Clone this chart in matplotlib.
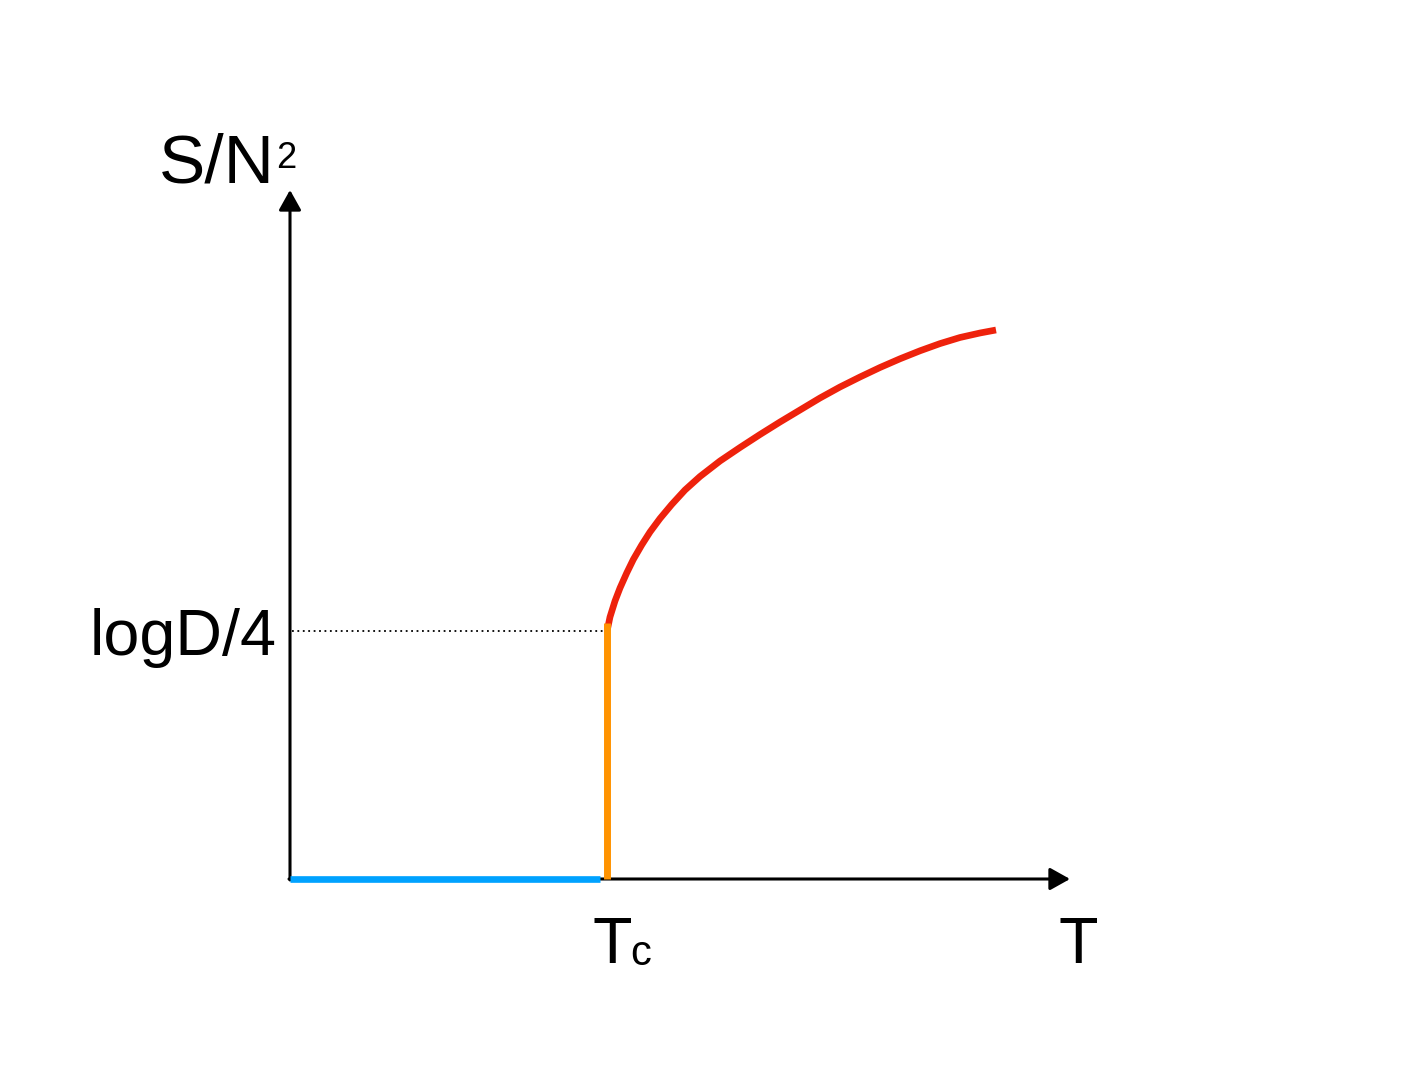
import numpy as np
import matplotlib.pyplot as plt

plt.rcParams['font.family'] = ['Liberation Sans', 'DejaVu Sans']

# ---- data (T along x, S/N^2 along y) ----
T_c = 3.17
S_c = 2.49          # logD/4

# blue: low-T phase, S = 0
T_low = [0.0, 3.10]
S_low = [0.0, 0.0]

# orange: jump at Tc
T_jump = [T_c, T_c]
S_jump = [0.0, 2.56]

# red: high-T phase
T_high = [3.173, 3.20, 3.25, 3.30, 3.367, 3.433, 3.517, 3.60, 3.70, 3.817, 3.95,
          4.10, 4.30, 4.50, 4.70, 4.90, 5.10, 5.30, 5.50, 5.70, 5.90, 6.10,
          6.30, 6.50, 6.70, 6.90, 7.06]
S_high = [2.49, 2.62, 2.78, 2.91, 3.06, 3.195, 3.34, 3.47, 3.605, 3.745, 3.89,
          4.025, 4.18, 4.315, 4.445, 4.57, 4.69, 4.81, 4.92, 5.02, 5.115, 5.202,
          5.282, 5.354, 5.415, 5.46, 5.49]

T_axis_end = 7.80
S_axis_end = 6.89

fig = plt.figure(figsize=(14.22, 10.67), dpi=100)
ax = fig.add_axes([0, 0, 1, 1])
ax.set_xlim(-2.90, 11.32)
ax.set_ylim(-1.88, 8.79)
ax.axis('off')

# axes with arrows
arrow = dict(arrowstyle='-|>,head_length=0.34,head_width=0.19', lw=2.2,
             color='black', mutation_scale=36, shrinkA=0, shrinkB=0)
ax.annotate('', xy=(T_axis_end, 0), xytext=(-0.01, 0), arrowprops=arrow, zorder=2)
ax.annotate('', xy=(0, S_axis_end), xytext=(0, -0.01), arrowprops=arrow, zorder=2)

# dotted guide at logD/4
ax.plot([0.02, T_c], [S_c - 0.01, S_c - 0.01], color='black', lw=1.3,
        linestyle=(0, (1, 2)), zorder=1)

ax.plot(T_low, S_low, color='#00A2FF', lw=4.8, solid_capstyle='butt', zorder=3)
ax.plot(T_jump, S_jump, color='#FF9300', lw=5.0, solid_capstyle='butt', zorder=4)
ax.plot(T_high, S_high, color='#EE220C', lw=4.8, solid_capstyle='butt',
        solid_joinstyle='round', zorder=3)

# labels
fs = 46.5
ax.text(-0.15, 6.96, 'S/N', fontsize=50, ha='right', va='baseline')
ax.text(-0.14, 7.11, '2', fontsize=26, ha='left', va='baseline')
ax.text(-0.13, 2.24, 'logD/4', fontsize=fs, ha='right', va='baseline')
ax.text(3.02, -0.84, 'T', fontsize=fs, ha='left', va='baseline')
ax.text(3.40, -0.86, 'c', fontsize=30, ha='left', va='baseline')
ax.text(7.69, -0.84, 'T', fontsize=fs, ha='left', va='baseline')

fig.savefig('out.png', dpi=100)
